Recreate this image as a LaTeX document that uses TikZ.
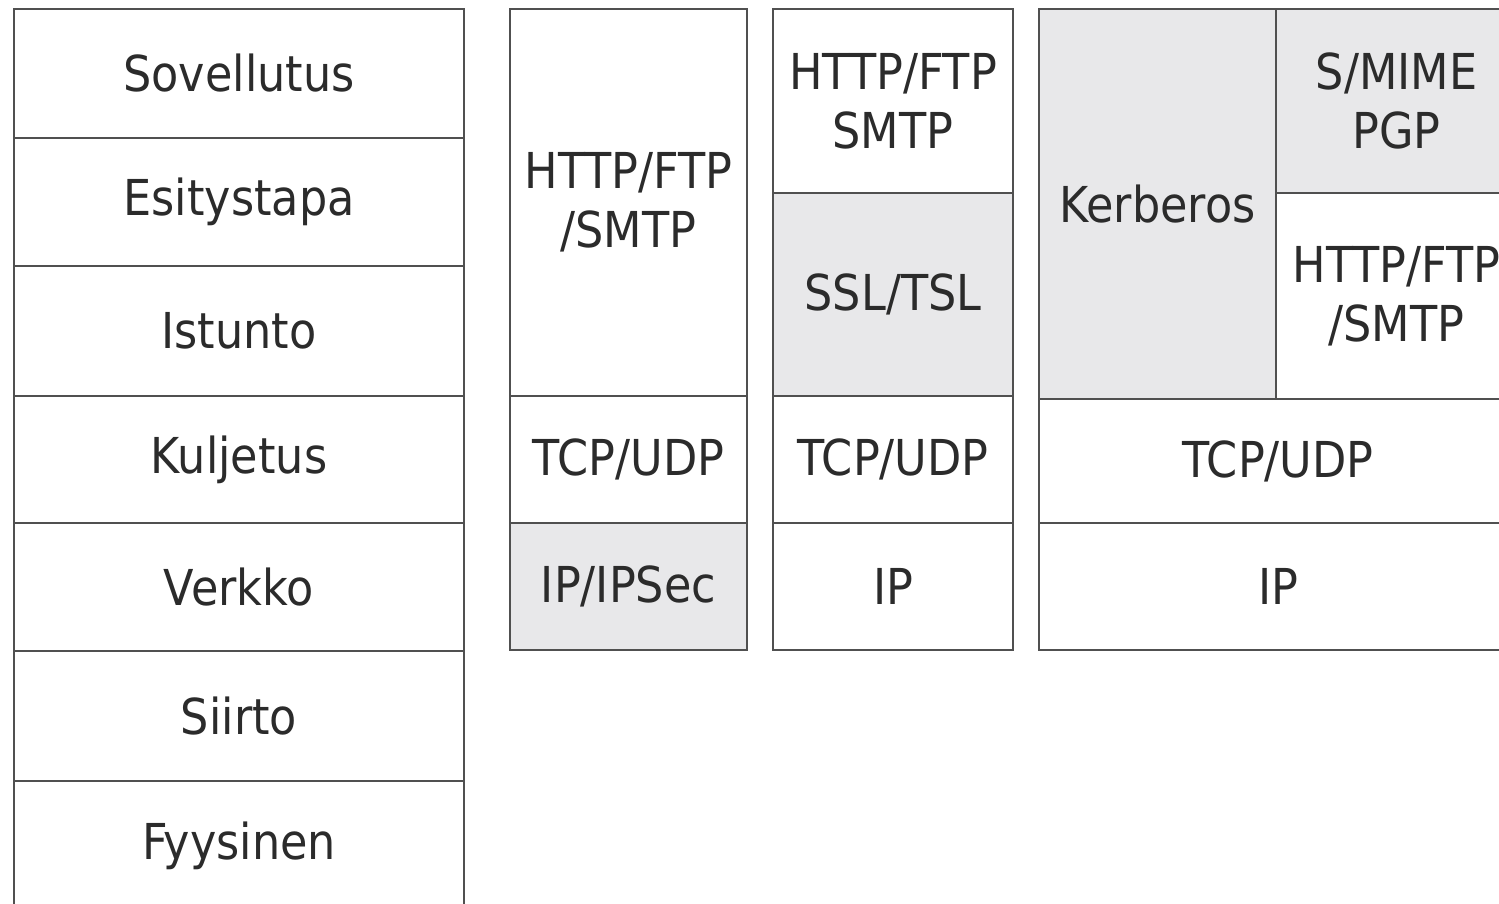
\documentclass[tikz,border=0pt]{standalone}
\usepackage{fontspec}
\setmainfont[FakeStretch=0.9]{DejaVu Sans}
\definecolor{edgec}{HTML}{505050}
\definecolor{shadec}{HTML}{E8E8EA}
\definecolor{textc}{HTML}{2B2B2B}
\tikzset{
  cell/.style={draw=edgec, line width=1.3pt, fill=white, text=textc,
    align=center, inner sep=0pt, anchor=center,
    font=\fontsize{24.75}{29.5}\selectfont},
  shaded/.style={cell, fill=shadec},
  % size in pixel-like units (1 unit = 0.5pt)
  sz/.style 2 args={minimum width=#1*0.5pt, minimum height=#2*0.5pt},
}
\begin{document}
\begin{tikzpicture}[x=0.5pt, y=-0.5pt]
\useasboundingbox[fill=white] (0,0) rectangle (1499,904);

% OSI layers
\node[cell, sz={450}{129}] (sov) at (239,73.5)  {Sovellutus};
\node[cell, sz={450}{128}] (esi) at (239,202)   {Esitystapa};
\node[cell, sz={450}{130}] (ist) at (239,331)   {Istunto};
\node[cell, sz={450}{127}] (kul) at (239,459.5) {Kuljetus};
\node[cell, sz={450}{128}] (ver) at (239,587)   {Verkko};
\node[cell, sz={450}{130}] (sii) at (239,716)   {Siirto};
\node[cell, sz={450}{129}] (fyy) at (239,845.5) {Fyysinen};

% IPSec stack
\node[cell,   sz={237}{387}] (a1) at (628.5,202.5) {HTTP/FTP\\/SMTP};
\node[cell,   sz={237}{127}] (a2) at (628.5,459.5) {TCP/UDP};
\node[shaded, sz={237}{127}] (a3) at (628.5,586.5) {IP/IPSec};

% SSL/TLS stack
\node[cell,   sz={240}{184}] (b1) at (893,101)   {HTTP/FTP\\SMTP};
\node[shaded, sz={240}{203}] (b2) at (893,294.5) {SSL/TSL};
\node[cell,   sz={240}{127}] (b3) at (893,459.5) {TCP/UDP};
\node[cell,   sz={240}{127}] (b4) at (893,586.5) {IP};

% Application-level security stack
\node[shaded, sz={237}{390}] (c1) at (1157.5,204) {Kerberos};
\node[shaded, sz={241}{184}] (c2) at (1396.5,101) {S/MIME\\PGP};
\node[cell,   sz={241}{206}] (c3) at (1396.5,296) {HTTP/FTP\\/SMTP};
\node[cell,   sz={478}{124}] (c4) at (1278,461)   {TCP/UDP};
\node[cell,   sz={478}{127}] (c5) at (1278,586.5) {IP};
\end{tikzpicture}
\end{document}
